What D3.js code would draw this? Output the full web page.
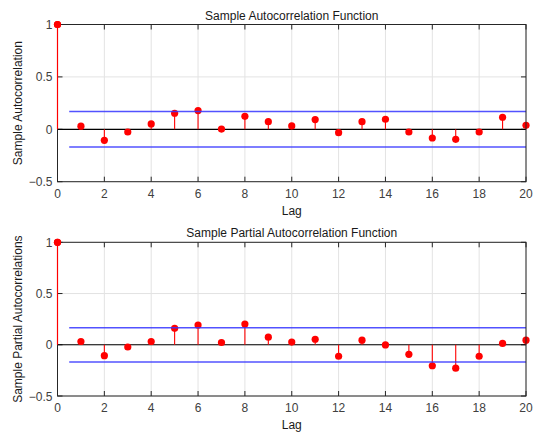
<!DOCTYPE html>
<html>
<head>
<meta charset="utf-8">
<script src="https://cdn.jsdelivr.net/npm/d3@7"></script>
<style>
  html, body { margin: 0; padding: 0; background: #fff; }
  svg { display: block; }
  text { font-family: "Liberation Sans", Arial, sans-serif; }
</style>
</head>
<body>
<svg id="chart" width="541" height="434"></svg>
<script>
// Lags 0..20
const lags = d3.range(0, 21);

// Sample autocorrelation values
const acfValues = [1, 0.03, -0.105, -0.026, 0.051, 0.153, 0.179, 0.002, 0.124, 0.073,
  0.032, 0.093, -0.032, 0.073, 0.096, -0.026, -0.083, -0.096, -0.026, 0.115, 0.038];

// Sample partial autocorrelation values
const pacfValues = [1, 0.032, -0.106, -0.022, 0.032, 0.16, 0.192, 0.022, 0.202, 0.074,
  0.026, 0.054, -0.112, 0.045, -0.002, -0.093, -0.205, -0.228, -0.112, 0.013, 0.045];

// Approximate confidence bounds
const acfBound = 0.17;
const pacfBound = 0.167;

const xTicks = [0, 2, 4, 6, 8, 10, 12, 14, 16, 18, 20];
const yTicks = [-0.5, 0, 0.5, 1];
const yTickLabels = ["\u22120.5", "0", "0.5", "1"];

const panels = [
  { title: "Sample Autocorrelation Function", ylabel: "Sample Autocorrelation",
    values: acfValues, bound: acfBound, top: 24.5, bottom: 181.7 },
  { title: "Sample Partial Autocorrelation Function", ylabel: "Sample Partial Autocorrelations",
    values: pacfValues, bound: pacfBound, top: 242.3, bottom: 396 }
];

const svg = d3.select("#chart");
const left = 57.5, right = 526;
const tickLen = 5;

panels.forEach(p => {
  const x = d3.scaleLinear().domain([0, 20]).range([left, right]);
  const y = d3.scaleLinear().domain([-0.5, 1]).range([p.bottom, p.top]);
  const g = svg.append("g");

  // grid
  g.selectAll(".vg").data(xTicks).join("line")
    .attr("x1", d => x(d)).attr("x2", d => x(d))
    .attr("y1", p.top).attr("y2", p.bottom)
    .attr("stroke", "#e3e3e3").attr("stroke-width", 1);
  g.selectAll(".hg").data(yTicks).join("line")
    .attr("x1", left).attr("x2", right)
    .attr("y1", d => y(d)).attr("y2", d => y(d))
    .attr("stroke", "#e3e3e3").attr("stroke-width", 1);

  // inward ticks on all four sides
  const tg = g.append("g").attr("stroke", "#262626").attr("stroke-width", 1);
  xTicks.forEach(t => {
    tg.append("line").attr("x1", x(t)).attr("x2", x(t)).attr("y1", p.bottom).attr("y2", p.bottom - tickLen);
    tg.append("line").attr("x1", x(t)).attr("x2", x(t)).attr("y1", p.top).attr("y2", p.top + tickLen);
  });
  yTicks.forEach(t => {
    tg.append("line").attr("x1", left).attr("x2", left + tickLen).attr("y1", y(t)).attr("y2", y(t));
    tg.append("line").attr("x1", right).attr("x2", right - tickLen).attr("y1", y(t)).attr("y2", y(t));
  });

  // zero line
  g.append("line").attr("x1", left).attr("x2", right)
    .attr("y1", y(0)).attr("y2", y(0))
    .attr("stroke", "#000").attr("stroke-width", 1.2);

  // stems
  g.selectAll(".stem").data(lags).join("line")
    .attr("x1", d => x(d)).attr("x2", d => x(d))
    .attr("y1", y(0)).attr("y2", d => y(p.values[d]))
    .attr("stroke", "#ff0000").attr("stroke-width", 1.1);

  // markers
  g.selectAll(".mk").data(lags).join("circle")
    .attr("cx", d => x(d)).attr("cy", d => y(p.values[d]))
    .attr("r", 3.6).attr("fill", "#ff0000");

  // confidence bounds
  [p.bound, -p.bound].forEach(b => {
    g.append("line").attr("x1", x(0.5)).attr("x2", right)
      .attr("y1", y(b)).attr("y2", y(b))
      .attr("stroke", "#3434ff").attr("stroke-opacity", 0.85).attr("stroke-width", 1.5);
  });

  // box
  g.append("rect").attr("x", left).attr("y", p.top)
    .attr("width", right - left).attr("height", p.bottom - p.top)
    .attr("fill", "none").attr("stroke", "#262626").attr("stroke-width", 1);

  // re-draw lag 0 stem over the left edge
  g.append("line").attr("x1", x(0)).attr("x2", x(0))
    .attr("y1", y(0)).attr("y2", y(p.values[0]))
    .attr("stroke", "#ff0000").attr("stroke-width", 1.1);
  g.append("circle").attr("cx", x(0)).attr("cy", y(p.values[0]))
    .attr("r", 3.6).attr("fill", "#ff0000");

  // tick labels
  g.selectAll(".xl").data(xTicks).join("text")
    .attr("x", d => x(d)).attr("y", p.bottom + 16)
    .attr("text-anchor", "middle").attr("font-size", 12).attr("fill", "#404040")
    .text(d => d);
  g.selectAll(".yl").data(yTicks).join("text")
    .attr("x", left - 5).attr("y", d => y(d) + 4.5)
    .attr("text-anchor", "end").attr("font-size", 12).attr("fill", "#404040")
    .text((d, i) => yTickLabels[i]);

  // title and axis labels
  g.append("text").attr("x", (left + right) / 2).attr("y", p.top - 5)
    .attr("text-anchor", "middle").attr("font-size", 12).attr("fill", "#1a1a1a")
    .text(p.title);
  g.append("text").attr("x", (left + right) / 2).attr("y", p.bottom + 33)
    .attr("text-anchor", "middle").attr("font-size", 12).attr("fill", "#1a1a1a")
    .text("Lag");
  g.append("text")
    .attr("transform", `translate(22,${(p.top + p.bottom) / 2}) rotate(-90)`)
    .attr("text-anchor", "middle").attr("font-size", 12).attr("fill", "#1a1a1a")
    .text(p.ylabel);
});
</script>
</body>
</html>
